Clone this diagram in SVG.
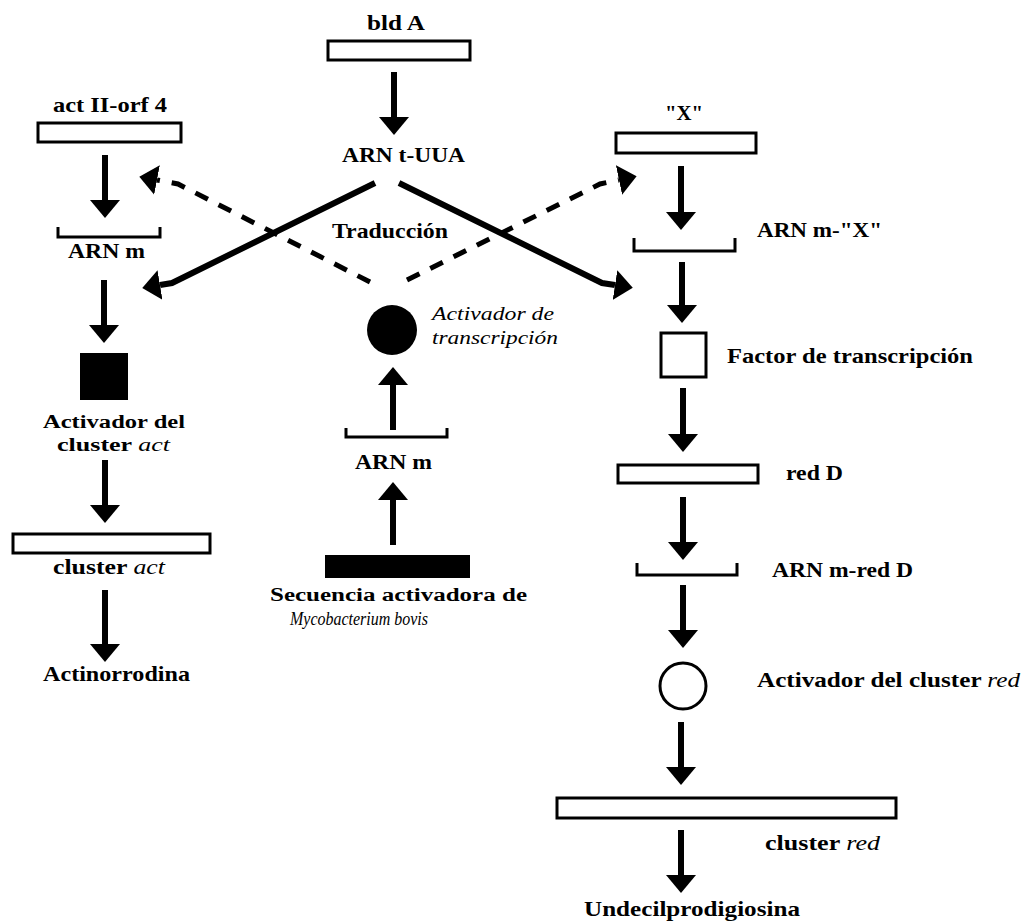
<svg xmlns="http://www.w3.org/2000/svg" width="1031" height="921" viewBox="0 0 1031 921">
<style>
text{font-family:"Liberation Serif","Times New Roman",serif;font-weight:bold;font-size:21px;fill:#000}
.sm{font-size:18.5px}
.it{font-style:italic;font-weight:normal}
.box{fill:#fff;stroke:#000;stroke-width:3}
.solid{fill:#000}
.br{fill:none;stroke:#000;stroke-width:3}
.ar{fill:none;stroke:#000;stroke-width:6;marker-end:url(#ah)}
.dash{fill:none;stroke:#000;stroke-width:5;stroke-dasharray:14 12;marker-end:url(#ah)}
</style>
<defs>
<marker id="ah" viewBox="0 0 18 30" refX="0" refY="15" markerWidth="18" markerHeight="30" markerUnits="userSpaceOnUse" orient="auto">
<path d="M0,0 L18,15 L0,30 Z" fill="#000"/>
</marker>
</defs>
<rect width="1031" height="921" fill="#fff"/>

<g id="bldA"><text x="367" y="30" textLength="58" lengthAdjust="spacingAndGlyphs">bld A</text><rect class="box" x="328" y="41" width="142" height="19"/></g>
<g id="arnt"><text x="342" y="162" textLength="123" lengthAdjust="spacingAndGlyphs">ARN t-UUA</text></g>
<g id="traduccion"><text x="332" y="238" textLength="116" lengthAdjust="spacingAndGlyphs">Traducción</text></g>

<g id="actorf"><text x="53" y="112" textLength="114" lengthAdjust="spacingAndGlyphs">act II-orf 4</text><rect class="box" x="38" y="123" width="143" height="19"/></g>
<g id="arnmL"><path class="br" d="M58,227 V237 H160 V227"/><text x="68" y="258" textLength="77" lengthAdjust="spacingAndGlyphs">ARN m</text></g>
<g id="actAct"><rect class="solid" x="80" y="353" width="48" height="47"/><text class="sm" x="43" y="428" textLength="142" lengthAdjust="spacingAndGlyphs">Activador del</text><text class="sm" x="57" y="451" textLength="113" lengthAdjust="spacingAndGlyphs">cluster <tspan class="it">act</tspan></text></g>
<g id="clusterAct"><rect class="box" x="13" y="534" width="197" height="19"/><text x="53" y="574" textLength="112" lengthAdjust="spacingAndGlyphs">cluster <tspan class="it">act</tspan></text></g>
<g id="actinorrodina"><text x="43" y="681" textLength="147" lengthAdjust="spacingAndGlyphs">Actinorrodina</text></g>

<g id="actTrans"><circle cx="392" cy="330" r="25" fill="#000"/><text class="it sm" x="432" y="320" textLength="122" lengthAdjust="spacingAndGlyphs">Activador de</text><text class="it sm" x="432" y="344" textLength="126" lengthAdjust="spacingAndGlyphs">transcripción</text></g>
<g id="arnmC"><path class="br" d="M346,428 V437 H447 V428"/><text x="355" y="469" textLength="77" lengthAdjust="spacingAndGlyphs">ARN m</text></g>
<g id="secuencia"><rect class="solid" x="325" y="555" width="145" height="23"/><text class="sm" x="270" y="601" textLength="257" lengthAdjust="spacingAndGlyphs">Secuencia activadora de</text><text class="it sm" x="290" y="625" textLength="138" lengthAdjust="spacingAndGlyphs">Mycobacterium bovis</text></g>

<g id="X"><text x="665" y="120" textLength="38" lengthAdjust="spacingAndGlyphs">"X"</text><rect class="box" x="616" y="133" width="140" height="20"/></g>
<g id="arnmX"><path class="br" d="M634,238 V251 H735 V238"/><text x="757" y="237" textLength="125" lengthAdjust="spacingAndGlyphs">ARN m-"X"</text></g>
<g id="factor"><rect class="box" x="661" y="333" width="45" height="44"/><text x="727" y="363" textLength="246" lengthAdjust="spacingAndGlyphs">Factor de transcripción</text></g>
<g id="redD"><rect class="box" x="618" y="465" width="140" height="18"/><text x="786" y="480" textLength="57" lengthAdjust="spacingAndGlyphs">red D</text></g>
<g id="arnmRed"><path class="br" d="M637,563 V575 H737 V563"/><text x="772" y="577" textLength="141" lengthAdjust="spacingAndGlyphs">ARN m-red D</text></g>
<g id="actRed"><circle cx="683" cy="686" r="23" fill="#fff" stroke="#000" stroke-width="3"/><text x="757" y="687" textLength="263" lengthAdjust="spacingAndGlyphs">Activador del cluster <tspan class="it">red</tspan></text></g>
<g id="clusterRed"><rect class="box" x="557" y="798" width="339" height="20"/><text x="765" y="850" textLength="115" lengthAdjust="spacingAndGlyphs">cluster <tspan class="it">red</tspan></text></g>
<g id="undecil"><text x="584" y="916" textLength="216" lengthAdjust="spacingAndGlyphs">Undecilprodigiosina</text></g>

<g id="connectors">
<line class="ar" x1="394" y1="72" x2="394" y2="117"/>
<line class="ar" x1="105" y1="155" x2="105" y2="200"/>
<line class="ar" x1="104" y1="280" x2="104" y2="325"/>
<line class="ar" x1="105" y1="460" x2="105" y2="505"/>
<line class="ar" x1="105" y1="590" x2="105" y2="644"/>
<line class="ar" x1="393" y1="430" x2="393" y2="385"/>
<line class="ar" x1="393" y1="545" x2="393" y2="500"/>
<line class="ar" x1="681" y1="166" x2="681" y2="212"/>
<line class="ar" x1="682" y1="262" x2="682" y2="305"/>
<line class="ar" x1="683" y1="388" x2="683" y2="434"/>
<line class="ar" x1="683" y1="497" x2="683" y2="542"/>
<line class="ar" x1="683" y1="585" x2="683" y2="630"/>
<line class="ar" x1="681" y1="722" x2="681" y2="767"/>
<line class="ar" x1="681" y1="830" x2="681" y2="875"/>
<path class="ar" d="M375,183 L172,283 L160,285"/>
<path class="ar" d="M399,183 L602,283 L615,285"/>
<path class="dash" d="M370,282 L178,184 L157,180"/>
<path class="dash" d="M407,280 L600,184 L619,180"/>
</g>
</svg>
